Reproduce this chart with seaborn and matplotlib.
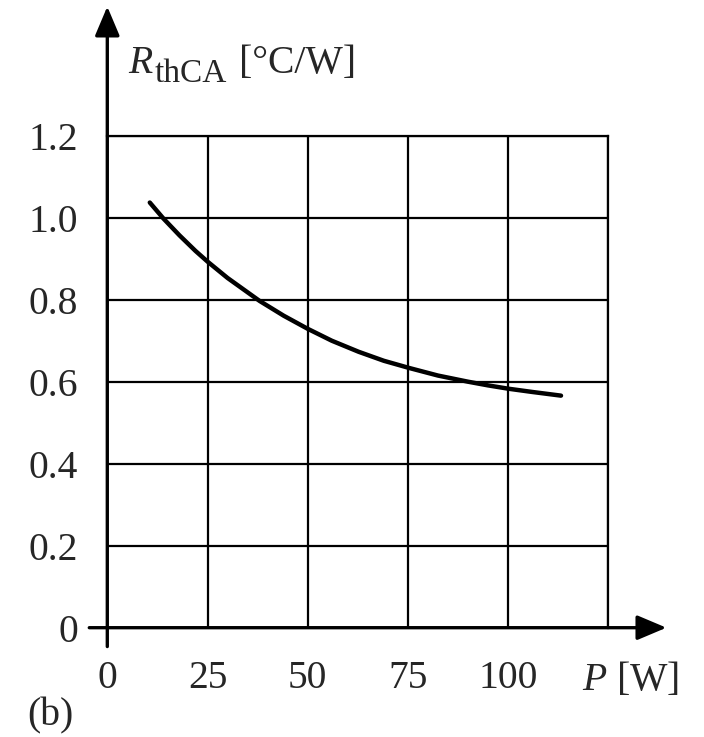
import matplotlib
matplotlib.use("Agg")
import matplotlib.pyplot as plt
import seaborn as sns
import pandas as pd

# Heat-sink thermal resistance versus dissipated power
power_w = [10.6, 14, 18, 22, 25, 30, 38, 44, 50, 56, 62.7, 69, 75.5, 82.5, 90, 95,
           100, 106, 113.2]
r_thca = [1.037, 0.998, 0.957, 0.919, 0.893, 0.853, 0.797, 0.761, 0.729, 0.700,
          0.673, 0.651, 0.633, 0.615, 0.600, 0.591, 0.583, 0.575, 0.566]

x_ticks = [0, 25, 50, 75, 100, 125]
x_tick_labels = ["0", "25", "50", "75", "100", ""]
y_ticks = [0, 0.2, 0.4, 0.6, 0.8, 1.0, 1.2]
y_tick_labels = ["0", "0.2", "0.4", "0.6", "0.8", "1.0", "1.2"]

sns.set_theme(style="white")
plt.rcParams["font.family"] = ["Liberation Serif", "DejaVu Serif"]
plt.rcParams["mathtext.fontset"] = "custom"
plt.rcParams["mathtext.rm"] = "Liberation Serif"
plt.rcParams["mathtext.it"] = "Liberation Serif:italic"

FS = 28.5
W, H = 704, 737
fig = plt.figure(figsize=(W / 100, H / 100), dpi=100)
ax = fig.add_axes([107.3 / W, 1 - 627.7 / H, 501.0 / W, 492.0 / H])

df = pd.DataFrame({"P": power_w, "R": r_thca})
sns.lineplot(data=df, x="P", y="R", ax=ax, color="black", lw=3.2, sort=True,
             solid_capstyle="round", solid_joinstyle="round", zorder=5)

ax.set_xlim(0, 125)
ax.set_ylim(0, 1.2)
ax.set_xticks(x_ticks)
ax.set_xticklabels(x_tick_labels, fontsize=FS)
ax.set_yticks(y_ticks)
ax.set_yticklabels(y_tick_labels, fontsize=FS)
ax.set_xlabel("")
ax.set_ylabel("")

ax.grid(True, color="black", lw=1.6)
ax.tick_params(axis="y", direction="out", length=14, width=1.6, color="black", pad=7)
ax.tick_params(axis="x", length=0, pad=23.5)

for side in ("left", "bottom"):
    ax.spines[side].set_visible(False)
for side in ("top", "right"):
    ax.spines[side].set_color("black")
    ax.spines[side].set_linewidth(1.6)

arrow = dict(arrowstyle="-|>,head_length=0.9,head_width=0.38", lw=2.4,
             color="black", shrinkA=0, shrinkB=0, mutation_scale=20)
ax.annotate("", xy=(0, 1.515), xytext=(0, -0.046), arrowprops=arrow,
            annotation_clip=False, zorder=6)
ax.annotate("", xy=(139.5, 0), xytext=(-4.5, 0), arrowprops=arrow,
            annotation_clip=False, zorder=6)

# Axis titles: R with an upright subscript, then the unit
fig.text(128 / W, 1 - 73 / H, r"$R$", fontsize=FS, ha="left", va="baseline")
fig.text(155 / W, 1 - 82 / H, "thCA", fontsize=FS * 0.84, ha="left", va="baseline")
fig.text(239 / W, 1 - 73 / H, "[°C/W]", fontsize=FS, ha="left", va="baseline")
fig.text(582 / W, 1 - 690 / H, r"$P$ [W]", fontsize=FS, ha="left", va="baseline")
fig.text(27 / W, 1 - 725 / H, "(b)", fontsize=FS, ha="left", va="baseline")

fig.savefig("out.png", dpi=100)
